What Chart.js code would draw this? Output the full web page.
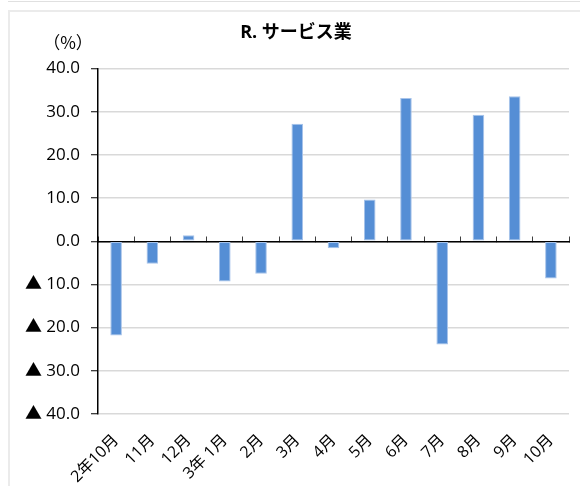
<!DOCTYPE html>
<html>
<head>
<meta charset="utf-8">
<script src="https://cdn.jsdelivr.net/npm/chart.js@4/dist/chart.umd.min.js"></script>
<style>
  html, body { margin: 0; padding: 0; background: #fff; }
  #wrap { position: relative; width: 580px; height: 486px; overflow: hidden; }
  #topline { position: absolute; left: 8px; top: 1px; width: 572px; height: 1px; background: #e0e0e0; }
  #frame { position: absolute; left: 8px; top: 10px; width: 580px; height: 490px;
           border-left: 2px solid #ebebeb; border-top: 2px solid #ebebeb; box-sizing: border-box; }
  canvas { position: absolute; left: 0; top: 0; }
</style>
</head>
<body>
<div id="wrap">
  <div id="topline"></div>
  <div id="frame"></div>
  <canvas id="c" width="580" height="486"></canvas>
</div>
<script>
const categories = ['2年10月', '11月', '12月', '3年 1月', '2月', '3月', '4月', '5月', '6月', '7月', '8月', '9月', '10月'];
const serviceValues = [-21.8, -5.2, 1.4, -9.3, -7.5, 27.2, -1.6, 9.7, 33.2, -23.9, 29.3, 33.6, -8.6];
const yTickValues = [40, 30, 20, 10, 0, -10, -20, -30, -40];
const yTickLabels = ['40.0', '30.0', '20.0', '10.0', '0.0', '▲ 10.0', '▲ 20.0', '▲ 30.0', '▲ 40.0'];
const chartTitle = 'R. サービス業';
const unitLabel = '（%）';

const FONT = "'Open Sans', 'Noto Sans CJK JP', sans-serif";

const unitPlugin = {
  id: 'unitLabel',
  afterDraw(chart) {
    const ctx = chart.ctx;
    const area = chart.chartArea;
    ctx.save();
    ctx.font = "17px 'Noto Sans CJK JP', sans-serif";
    ctx.fillStyle = '#000';
    ctx.textAlign = 'center';
    ctx.textBaseline = 'middle';
    ctx.fillText(unitLabel, area.left - 30, area.top - 26);
    ctx.restore();
  }
};

new Chart(document.getElementById('c'), {
  type: 'bar',
  data: {
    labels: categories,
    datasets: [{
      data: serviceValues,
      backgroundColor: '#558ED5',
      borderColor: '#A7C3EA',
      borderWidth: 1,
      borderSkipped: false,
      barPercentage: 0.32,
      categoryPercentage: 1.0,
      xAxisID: 'x',
      yAxisID: 'y'
    }]
  },
  plugins: [unitPlugin],
  options: {
    responsive: false,
    animation: false,
    layout: { padding: { left: 23, right: 11, top: 0, bottom: 0 } },
    plugins: {
      legend: { display: false },
      tooltip: { enabled: false },
      title: {
        display: true,
        text: chartTitle,
        color: '#000',
        font: { family: FONT, size: 18, weight: 'bold' },
        padding: { top: 22, bottom: 25 }
      }
    },
    scales: {
      x: {
        type: 'category',
        position: 'bottom',
        offset: true,
        grid: { display: false },
        border: { display: false },
        ticks: {
          color: '#000',
          font: { family: FONT, size: 16 },
          minRotation: 45,
          maxRotation: 45,
          autoSkip: false,
          padding: 9
        },
        afterFit(scale) { scale.height = 72; }
      },
      x2: {
        type: 'category',
        labels: categories,
        position: { y: 0 },
        offset: true,
        grid: {
          display: true,
          drawOnChartArea: false,
          offset: true,
          tickLength: -6,
          tickColor: '#404040',
          lineWidth: 1
        },
        border: { display: true, color: '#000', width: 1.5 },
        ticks: { display: false }
      },
      y: {
        min: -40,
        max: 40,
        afterBuildTicks(scale) {
          scale.ticks = yTickValues.map(v => ({ value: v }));
        },
        grid: {
          color: '#d9d9d9',
          lineWidth: 1.5,
          tickColor: '#000',
          tickLength: 7,
          tickWidth: 1
        },
        border: { display: true, color: '#000', width: 1.5 },
        ticks: {
          color: '#000',
          font: { family: FONT, size: 17 },
          padding: 11,
          callback(value) {
            const i = yTickValues.indexOf(value);
            return i >= 0 ? yTickLabels[i] : '';
          }
        },
        afterFit(scale) { scale.width = 75; }
      }
    }
  }
});
</script>
</body>
</html>
